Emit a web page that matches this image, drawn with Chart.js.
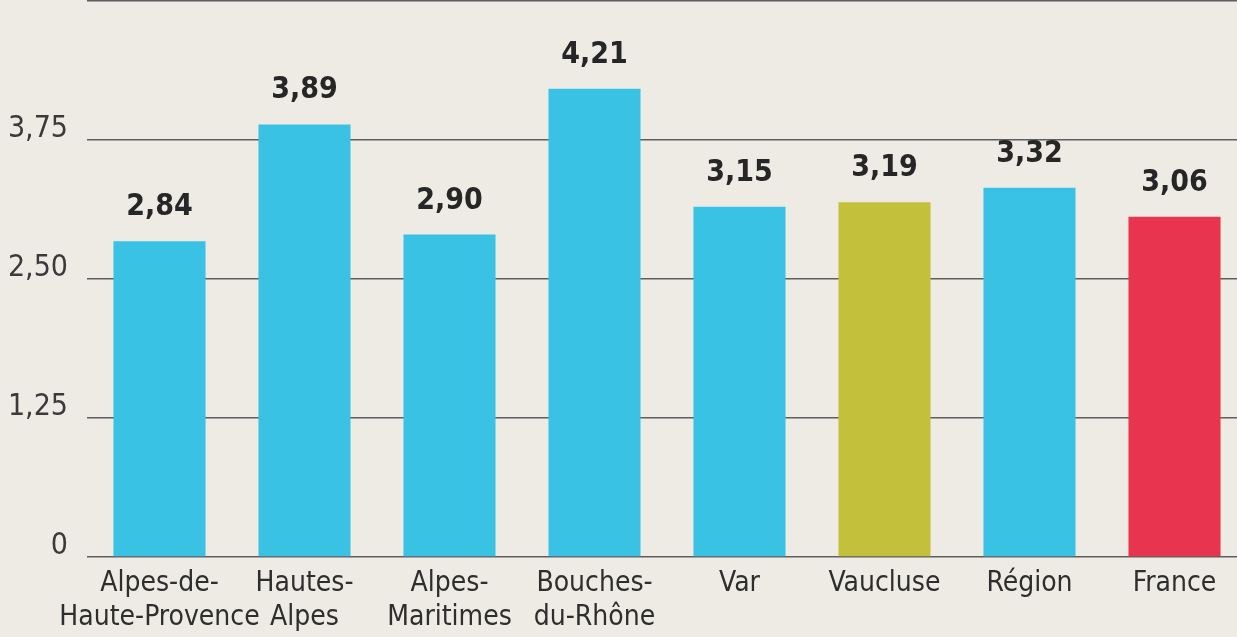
<!DOCTYPE html>
<html>
<head>
<meta charset="utf-8">
<script src="https://cdn.jsdelivr.net/npm/chart.js@4"></script>
<style>
  html, body { margin: 0; padding: 0; background: #eeebe5; overflow: hidden; }
  #wrap { width: 1250px; height: 637px; }
</style>
</head>
<body>
<div id="wrap"><canvas id="chart"></canvas></div>
<script>
// Données
const categories = [
    ['Alpes-de-', 'Haute-Provence'],
    ['Hautes-', 'Alpes'],
    ['Alpes-', 'Maritimes'],
    ['Bouches-', 'du-Rhône'],
    'Var',
    'Vaucluse',
    'Région',
    'France'
];
const values = [2.84, 3.89, 2.90, 4.21, 3.15, 3.19, 3.32, 3.06];
const yTicks = [0, 1.25, 2.5, 3.75, 5];

const cyan = '#3ac2e5';
const barColors = [cyan, cyan, cyan, cyan, cyan, '#c3c03c', cyan, '#e8344e'];

const FONT = '"Liberation Sans Narrow", "DejaVu Sans Condensed", Roboto, sans-serif';

const fmt = v => v.toFixed(2).replace('.', ',');

// étiquettes de valeur au-dessus des barres
const valueLabels = {
    id: 'valueLabels',
    afterDatasetsDraw(chart) {
        const ctx = chart.ctx;
        const meta = chart.getDatasetMeta(0);
        ctx.save();
        ctx.font = 'bold 30px ' + FONT;
        ctx.fillStyle = '#262626';
        ctx.textAlign = 'center';
        ctx.textBaseline = 'alphabetic';
        meta.data.forEach((bar, i) => {
            ctx.fillText(fmt(values[i]), bar.x, bar.y - 26);
        });
        ctx.restore();
    }
};

new Chart(document.getElementById('chart'), {
    type: 'bar',
    data: {
        labels: categories,
        datasets: [{
            data: values,
            backgroundColor: barColors,
            borderWidth: 0,
            barPercentage: 0.635,
            categoryPercentage: 1
        }]
    },
    options: {
        responsive: true,
        maintainAspectRatio: false,
        animation: false,
        layout: { padding: { top: 1, right: 3, left: 0, bottom: 0 } },
        plugins: {
            legend: { display: false },
            tooltip: { enabled: false }
        },
        scales: {
            x: {
                grid: { display: false, drawTicks: false },
                border: { display: false },
                ticks: {
                    color: '#2e2e2e',
                    font: { family: FONT, size: 28, lineHeight: 1.23 },
                    padding: 9,
                    autoSkip: false,
                    maxRotation: 0,
                    minRotation: 0
                },
                afterFit(s) {
                    s.height = 80;
                    s.paddingLeft = 0;
                    s.paddingRight = 0;
                }
            },
            y: {
                min: 0,
                max: 5,
                afterBuildTicks(s) { s.ticks = yTicks.map(v => ({ value: v })); },
                grid: { color: '#5e5e5e', lineWidth: 1.6, drawTicks: false },
                border: { display: false },
                ticks: {
                    color: '#3a3a3a',
                    font: { family: FONT, size: 30 },
                    padding: 19,
                    labelOffset: -11,
                    callback: v => (v === 0 ? '0' : v === 5 ? '5' : fmt(v))
                },
                afterFit(s) {
                    s.width = 87;
                    s.paddingTop = 0;
                    s.paddingBottom = 0;
                }
            }
        }
    },
    plugins: [valueLabels]
});
</script>
</body>
</html>
